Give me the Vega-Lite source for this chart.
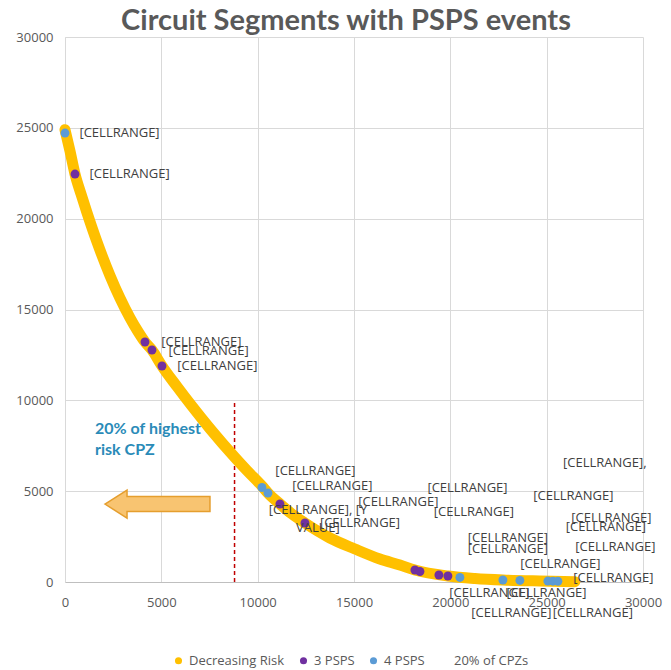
{
  "$schema": "https://vega.github.io/schema/vega-lite/v6.json",
  "width": 578,
  "height": 545,
  "autosize": {"type": "none"},
  "padding": {"left": 65, "top": 37, "right": 28, "bottom": 88},
  "background": "white",
  "title": {"text": "Circuit Segments with PSPS events", "font": "Lato", "fontSize": 29, "fontWeight": "bold", "color": "#595959", "anchor": "middle", "offset": 6, "dx": -8, "dy": 11},
  "config": {
    "view": {"stroke": null},
    "legend": {"orient": "none", "legendX": 107, "legendY": 617, "direction": "horizontal", "symbolType": "circle", "symbolSize": 50, "labelFont": "Open Sans", "labelFontSize": 13, "labelColor": "#595959", "columnPadding": 12, "labelOffset": 4, "padding": 0, "symbolStrokeWidth": 0}
  },
  "datasets": {
    "cutoff": [{"x": 8800, "y": 0, "y2": 10000}],
    "curve": [
      {"x": 0, "y": 24900}, {"x": 259, "y": 23720}, {"x": 519, "y": 22456}, {"x": 830, "y": 21361},
      {"x": 1142, "y": 20326}, {"x": 1660, "y": 18719}, {"x": 2335, "y": 16870}, {"x": 2854, "y": 15626},
      {"x": 3373, "y": 14542}, {"x": 3788, "y": 13788}, {"x": 4151, "y": 13210}, {"x": 4514, "y": 12769},
      {"x": 5033, "y": 11889}, {"x": 5812, "y": 10758}, {"x": 6590, "y": 9676}, {"x": 7524, "y": 8443},
      {"x": 8821, "y": 6852}, {"x": 9444, "y": 6134}, {"x": 10222, "y": 5284}, {"x": 10534, "y": 4899},
      {"x": 11156, "y": 4293}, {"x": 11779, "y": 3743}, {"x": 12454, "y": 3247}, {"x": 13751, "y": 2422},
      {"x": 15048, "y": 1816}, {"x": 16345, "y": 1266}, {"x": 17383, "y": 936}, {"x": 18162, "y": 660},
      {"x": 19874, "y": 330}, {"x": 21275, "y": 193}, {"x": 22728, "y": 110}, {"x": 24648, "y": 55},
      {"x": 26464, "y": 20}
    ],
    "events": [
      {"x": 519, "y": 22456, "series": "3 PSPS"},
      {"x": 4151, "y": 13210, "series": "3 PSPS"},
      {"x": 4514, "y": 12769, "series": "3 PSPS"},
      {"x": 5033, "y": 11889, "series": "3 PSPS"},
      {"x": 11156, "y": 4293, "series": "3 PSPS"},
      {"x": 12454, "y": 3247, "series": "3 PSPS"},
      {"x": 18162, "y": 660, "series": "3 PSPS"},
      {"x": 18421, "y": 580, "series": "3 PSPS"},
      {"x": 19407, "y": 385, "series": "3 PSPS"},
      {"x": 19874, "y": 330, "series": "3 PSPS"},
      {"x": 0, "y": 24713, "series": "4 PSPS"},
      {"x": 10222, "y": 5200, "series": "4 PSPS"},
      {"x": 10534, "y": 4899, "series": "4 PSPS"},
      {"x": 20495, "y": 250, "series": "4 PSPS"},
      {"x": 22728, "y": 110, "series": "4 PSPS"},
      {"x": 23610, "y": 85, "series": "4 PSPS"},
      {"x": 25063, "y": 50, "series": "4 PSPS"},
      {"x": 25323, "y": 45, "series": "4 PSPS"},
      {"x": 25582, "y": 40, "series": "4 PSPS"}
    ],
    "labels": [
      {"x": 2830, "y": 24710, "label": "[CELLRANGE]"},
      {"x": 3350, "y": 22460, "label": "[CELLRANGE]"},
      {"x": 7080, "y": 13210, "label": "[CELLRANGE]"},
      {"x": 7450, "y": 12720, "label": "[CELLRANGE]"},
      {"x": 7910, "y": 11890, "label": "[CELLRANGE]"},
      {"x": 13000, "y": 6130, "label": "[CELLRANGE]"},
      {"x": 13880, "y": 5300, "label": "[CELLRANGE]"},
      {"x": 13130, "y": 3960, "label": "[CELLRANGE], [Y\nVALUE]"},
      {"x": 15310, "y": 3250, "label": "[CELLRANGE]"},
      {"x": 17300, "y": 4400, "label": "[CELLRANGE]"},
      {"x": 20890, "y": 5170, "label": "[CELLRANGE]"},
      {"x": 21220, "y": 3850, "label": "[CELLRANGE]"},
      {"x": 22990, "y": 2420, "label": "[CELLRANGE]"},
      {"x": 22990, "y": 1820, "label": "[CELLRANGE]"},
      {"x": 25710, "y": 990, "label": "[CELLRANGE]"},
      {"x": 22030, "y": -600, "label": "[CELLRANGE]"},
      {"x": 24990, "y": -600, "label": "[CELLRANGE]"},
      {"x": 23170, "y": -1710, "label": "[CELLRANGE]"},
      {"x": 27400, "y": -1710, "label": "[CELLRANGE]"},
      {"x": 28460, "y": 220, "label": "[CELLRANGE]"},
      {"x": 28570, "y": 1930, "label": "[CELLRANGE]"},
      {"x": 28070, "y": 3030, "label": "[CELLRANGE]"},
      {"x": 28360, "y": 3520, "label": "[CELLRANGE]"},
      {"x": 26390, "y": 4730, "label": "[CELLRANGE]"},
      {"x": 28020, "y": 6550, "label": "[CELLRANGE],"}
    ],
    "notes": [{"x": 1560, "y": 8420, "label": "20% of highest\nrisk CPZ"}],
    "arrows": [{"x": 4800, "y": 4290}]
  },
  "layer": [
    {
      "data": {"name": "cutoff"},
      "mark": {"type": "rule", "color": "#C00000", "strokeWidth": 1.5, "strokeDash": [4, 3]},
      "encoding": {
        "x": {"field": "x", "type": "quantitative", "scale": {"domain": [0, 30000], "nice": false, "zero": false},
          "axis": {"title": null, "values": [0, 5000, 10000, 15000, 20000, 25000, 30000], "format": "d", "grid": true, "gridColor": "#D9D9D9", "domainColor": "#BFBFBF", "ticks": false, "labelPadding": 14, "labelFont": "Open Sans", "labelFontSize": 13, "labelColor": "#595959", "labelFlush": false, "labelOverlap": false}},
        "y": {"field": "y", "type": "quantitative", "scale": {"domain": [0, 30000], "nice": false, "zero": false},
          "axis": {"title": null, "values": [0, 5000, 10000, 15000, 20000, 25000, 30000], "format": "d", "grid": true, "gridColor": "#D9D9D9", "domainColor": "#D9D9D9", "ticks": false, "labelPadding": 12, "labelFont": "Open Sans", "labelFontSize": 13, "labelColor": "#595959", "labelFlush": false, "labelOverlap": false}},
        "y2": {"field": "y2"}
      }
    },
    {
      "data": {"name": "curve"},
      "mark": {"type": "line", "color": "#FFC000", "strokeWidth": 11, "interpolate": "monotone", "strokeCap": "round", "strokeJoin": "round"},
      "encoding": {
        "x": {"field": "x", "type": "quantitative"},
        "y": {"field": "y", "type": "quantitative"}
      }
    },
    {
      "data": {"name": "events"},
      "mark": {"type": "point", "filled": true, "size": 80, "opacity": 1},
      "encoding": {
        "x": {"field": "x", "type": "quantitative"},
        "y": {"field": "y", "type": "quantitative"},
        "color": {"field": "series", "type": "nominal",
          "scale": {"domain": ["Decreasing Risk", "3 PSPS", "4 PSPS", "20% of CPZs"], "range": ["#FFC000", "#7030A0", "#5B9BD5", "rgba(0,0,0,0)"]},
          "legend": {"title": null}}
      }
    },
    {
      "data": {"name": "labels"},
      "mark": {"type": "text", "font": "Open Sans", "fontSize": 13, "color": "#404040", "align": "center", "baseline": "middle", "lineBreak": "\n", "lineHeight": 18},
      "encoding": {
        "x": {"field": "x", "type": "quantitative"},
        "y": {"field": "y", "type": "quantitative"},
        "text": {"field": "label"}
      }
    },
    {
      "data": {"name": "notes"},
      "mark": {"type": "text", "font": "Lato", "fontSize": 16, "fontWeight": "bold", "color": "#2A8BB8", "align": "left", "baseline": "middle", "lineBreak": "\n", "lineHeight": 21},
      "encoding": {
        "x": {"field": "x", "type": "quantitative"},
        "y": {"field": "y", "type": "quantitative"},
        "text": {"field": "label"}
      }
    },
    {
      "data": {"name": "arrows"},
      "mark": {"type": "point", "shape": "M -1 0 L -0.58 -0.267 L -0.58 -0.143 L 1 -0.143 L 1 0.143 L -0.58 0.143 L -0.58 0.267 Z", "size": 11025, "filled": true, "fill": "#F8C471", "stroke": "#E59E2E", "strokeWidth": 1.5, "opacity": 1},
      "encoding": {
        "x": {"field": "x", "type": "quantitative"},
        "y": {"field": "y", "type": "quantitative"}
      }
    }
  ]
}
